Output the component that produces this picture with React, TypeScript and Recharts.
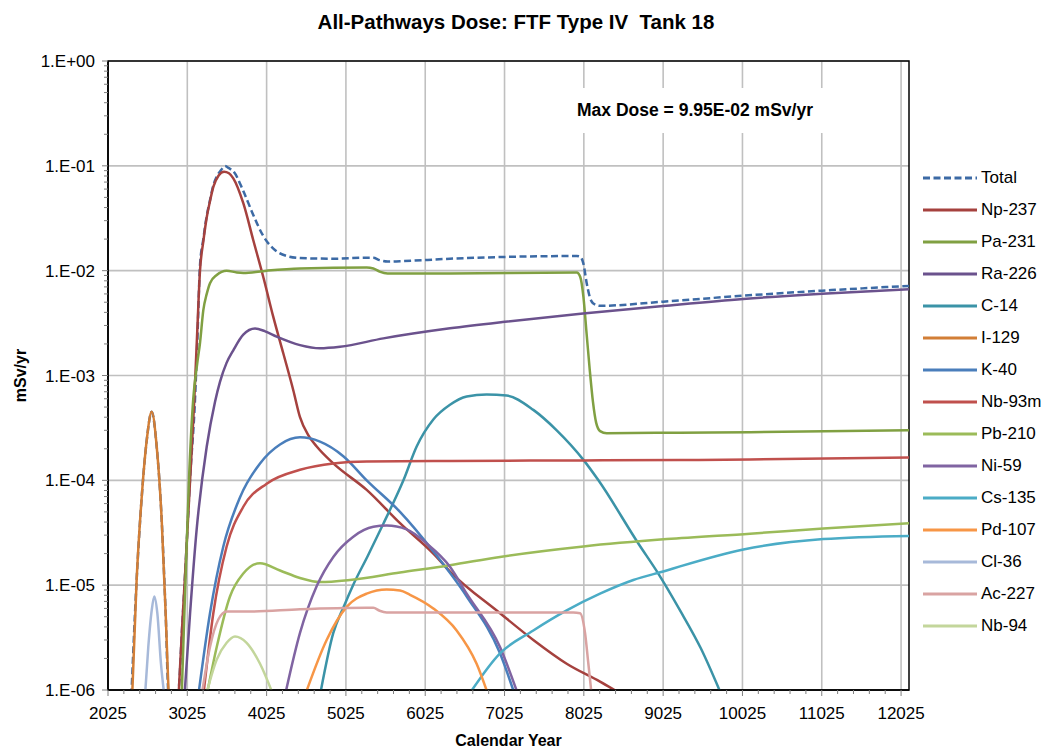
import React from 'react';
import { LineChart, Line, XAxis, YAxis, CartesianGrid, Legend, ReferenceArea } from 'recharts';

type Pt = [number, number];

// ---- data (year, dose mSv/yr) ----
const totalDose: Pt[] = [
  [2320, 8.9e-7], [2386, 1.12e-5], [2450, 6.9e-5], [2513, 2.4e-4], [2576, 4.5e-4], [2639, 2.1e-4],
  [2702, 4.2e-5], [2752, 5.4e-6], [2790, 8.9e-7], [2905, 8.9e-7], [2960, 4.0e-6], [3000, 1.4e-5],
  [3060, 1.05e-4], [3122, 5.9e-4], [3150, 2.0e-3], [3185, 1.12e-2], [3227, 2.0e-2], [3269, 3.3e-2],
  [3311, 4.7e-2], [3353, 6.5e-2], [3396, 7.9e-2], [3450, 9.1e-2], [3500, 9.95e-2], [3550, 9.5e-2],
  [3605, 8.9e-2], [3731, 5.75e-2], [3857, 3.4e-2], [3983, 2.14e-2], [4110, 1.62e-2], [4278, 1.38e-2],
  [4446, 1.32e-2], [4866, 1.30e-2], [5287, 1.33e-2], [5370, 1.33e-2], [5450, 1.26e-2], [5550, 1.22e-2],
  [5707, 1.23e-2], [6337, 1.30e-2], [7000, 1.35e-2], [7936, 1.38e-2], [7977, 1.36e-2], [8019, 1.17e-2],
  [8061, 7.6e-3], [8100, 5.6e-3], [8141, 4.9e-3], [8229, 4.62e-3], [9024, 5.06e-3], [10033, 5.77e-3],
  [11029, 6.45e-3], [12125, 7.15e-3],
];
const np237: Pt[] = [
  [2915, 8.9e-7], [2960, 4.0e-6], [3000, 1.4e-5], [3060, 1.0e-4], [3113, 5.9e-4], [3150, 2.6e-3],
  [3185, 1.0e-2], [3227, 1.9e-2], [3269, 3.2e-2], [3311, 4.6e-2], [3353, 6.3e-2], [3420, 8.1e-2],
  [3488, 8.8e-2], [3550, 8.5e-2], [3605, 7.6e-2], [3731, 4.4e-2], [3857, 1.95e-2], [3983, 8.7e-3],
  [4110, 3.6e-3], [4236, 1.62e-3], [4362, 7.2e-4], [4446, 4.0e-4], [4550, 2.7e-4], [4657, 2.1e-4],
  [4866, 1.45e-4], [5287, 8.1e-5], [5707, 3.9e-5], [6127, 2.0e-5], [6337, 1.35e-5], [6968, 5.4e-6],
  [7388, 3.0e-6], [7809, 1.78e-6], [8229, 1.2e-6], [8523, 8.9e-7],
];
const pa231: Pt[] = [
  [2954, 8.9e-7], [3000, 1.0e-5], [3050, 1.2e-4], [3100, 6.0e-4], [3150, 1.3e-3], [3185, 2.04e-3],
  [3227, 4.2e-3], [3270, 6.0e-3], [3311, 7.6e-3], [3396, 9.1e-3], [3521, 1.0e-2], [3650, 9.6e-3],
  [3731, 9.5e-3], [4026, 1.0e-2], [4446, 1.05e-2], [5287, 1.07e-2], [5371, 1.05e-2], [5450, 9.8e-3],
  [5550, 9.4e-3], [6337, 9.4e-3], [7936, 9.6e-3], [7980, 8.7e-3], [8020, 5.6e-3], [8060, 2.5e-3],
  [8100, 1.12e-3], [8140, 5.6e-4], [8180, 3.55e-4], [8230, 2.95e-4], [8313, 2.82e-4], [9238, 2.85e-4],
  [10121, 2.88e-4], [12125, 3.0e-4],
];
const ra226: Pt[] = [
  [2990, 8.9e-7], [3060, 5.4e-6], [3143, 3.4e-5], [3270, 2.1e-4], [3374, 5.6e-4], [3437, 8.7e-4],
  [3520, 1.32e-3], [3605, 1.74e-3], [3731, 2.45e-3], [3879, 2.8e-3], [4000, 2.65e-3], [4152, 2.35e-3],
  [4446, 1.95e-3], [4698, 1.82e-3], [4951, 1.88e-3], [5497, 2.26e-3], [6337, 2.82e-3], [7000, 3.24e-3],
  [8015, 3.9e-3], [9024, 4.6e-3], [10033, 5.37e-3], [11029, 6.03e-3], [12125, 6.65e-3],
];
const c14: Pt[] = [
  [4698, 8.9e-7], [4866, 3.5e-6], [5000, 6.3e-6], [5115, 1.0e-5], [5300, 1.9e-5], [5500, 3.9e-5],
  [5750, 1.0e-4], [5917, 2.1e-4], [6127, 3.8e-4], [6337, 5.25e-4], [6548, 6.3e-4], [6799, 6.6e-4],
  [7051, 6.45e-4], [7388, 4.7e-4], [7683, 3.0e-4], [8025, 1.55e-4], [8209, 1.0e-4], [8712, 2.5e-5],
  [8964, 1.29e-5], [9238, 5.75e-6], [9500, 2.5e-6], [9763, 8.9e-7],
];
const i129: Pt[] = [
  [2330, 8.9e-7], [2386, 1.12e-5], [2450, 6.9e-5], [2513, 2.4e-4], [2576, 4.5e-4], [2639, 2.1e-4],
  [2702, 4.2e-5], [2752, 5.4e-6], [2790, 8.9e-7],
];
const k40: Pt[] = [
  [3164, 8.9e-7], [3311, 5.4e-6], [3479, 2.34e-5], [3690, 6.9e-5], [3942, 1.45e-4], [4194, 2.2e-4],
  [4446, 2.57e-4], [4698, 2.34e-4], [4992, 1.7e-4], [5287, 1.0e-4], [5707, 5.0e-5], [6127, 2.1e-5],
  [6548, 7.8e-6], [6968, 2.24e-6], [7157, 8.9e-7],
];
const nb93m: Pt[] = [
  [3227, 8.9e-7], [3353, 5.4e-6], [3521, 2.34e-5], [3731, 5.6e-5], [4026, 9.3e-5], [4446, 1.26e-4],
  [4866, 1.45e-4], [5287, 1.51e-4], [6337, 1.53e-4], [8025, 1.55e-4], [9238, 1.56e-4], [10121, 1.58e-4],
  [12125, 1.65e-4],
];
const pb210: Pt[] = [
  [3269, 8.9e-7], [3396, 2.57e-6], [3563, 7.8e-6], [3731, 1.29e-5], [3942, 1.62e-5], [4194, 1.38e-5],
  [4446, 1.17e-5], [4698, 1.07e-5], [5076, 1.12e-5], [5707, 1.32e-5], [6337, 1.55e-5], [6968, 1.86e-5],
  [8019, 2.34e-5], [9069, 2.75e-5], [10121, 3.1e-5], [11045, 3.47e-5], [12125, 3.9e-5],
];
const ni59: Pt[] = [
  [4257, 8.9e-7], [4446, 3.5e-6], [4657, 9.8e-6], [4866, 1.86e-5], [5118, 2.9e-5], [5371, 3.6e-5],
  [5539, 3.7e-5], [5791, 3.4e-5], [6043, 2.5e-5], [6337, 1.5e-5], [6548, 8.3e-6], [6968, 2.57e-6],
  [7199, 8.9e-7],
];
const cs135: Pt[] = [
  [6569, 8.9e-7], [6968, 2.24e-6], [7388, 3.7e-6], [7809, 5.75e-6], [8229, 8.3e-6], [8649, 1.12e-5],
  [9069, 1.38e-5], [9238, 1.51e-5], [10037, 2.19e-5], [11045, 2.75e-5], [12125, 2.95e-5],
];
const pd107: Pt[] = [
  [4509, 8.9e-7], [4782, 3.0e-6], [5034, 6.2e-6], [5287, 8.3e-6], [5539, 9.1e-6], [5707, 8.9e-6],
  [5833, 8.1e-6], [6127, 6.0e-6], [6421, 3.7e-6], [6673, 1.78e-6], [6821, 8.9e-7],
];
const cl36: Pt[] = [
  [2492, 8.9e-7], [2533, 2.57e-6], [2576, 5.75e-6], [2609, 7.8e-6], [2647, 5.4e-6], [2693, 1.78e-6],
  [2735, 8.9e-7],
];
const ac227: Pt[] = [
  [3206, 8.9e-7], [3311, 2.57e-6], [3416, 4.7e-6], [3521, 5.6e-6], [3816, 5.6e-6], [4446, 5.9e-6],
  [5287, 6.1e-6], [5371, 6.1e-6], [5450, 5.7e-6], [5539, 5.5e-6], [6337, 5.5e-6], [7892, 5.5e-6],
  [7977, 5.4e-6], [8040, 3.5e-6], [8082, 1.78e-6], [8124, 8.9e-7],
];
const nb94: Pt[] = [
  [3260, 8.9e-7], [3396, 1.95e-6], [3521, 2.82e-6], [3626, 3.24e-6], [3773, 2.82e-6], [3942, 1.78e-6],
  [4110, 8.9e-7],
];

const seriesNames = ['Total', 'Np-237', 'Pa-231', 'Ra-226', 'C-14', 'I-129', 'K-40', 'Nb-93m', 'Pb-210', 'Ni-59', 'Cs-135', 'Pd-107', 'Cl-36', 'Ac-227', 'Nb-94'];
const seriesData: Pt[][] = [totalDose, np237, pa231, ra226, c14, i129, k40, nb93m, pb210, ni59, cs135, pd107, cl36, ac227, nb94];
const seriesColors = ['#3C6AA5', '#A5413E', '#80A042', '#6B528D', '#3B93A7', '#D27E36', '#4A7EBB', '#C0504D', '#9BBB59', '#8064A2', '#4BACC6', '#F79646', '#A7B9D9', '#D9A3A2', '#C3D69B'];

const xTickLabels = [2025, 3025, 4025, 5025, 6025, 7025, 8025, 9025, 10025, 11025, 12025];
const yDecades = [1e-6, 1e-5, 1e-4, 1e-3, 1e-2, 1e-1, 1];
const yTickLabels = ['1.E-06', '1.E-05', '1.E-04', '1.E-03', '1.E-02', '1.E-01', '1.E+00'];

const xMinorTicks: number[] = [];
for (let t = 2025; t <= 12025; t += 200) xMinorTicks.push(t);
const yAllTicks: number[] = [...yDecades];
yDecades.slice(0, 6).forEach((d) => {
  for (let k = 2; k <= 9; k++) yAllTicks.push(d * k);
});

const FONT = '"Liberation Sans", Arial, sans-serif';

const series = seriesNames.map((name, i) => ({
  name,
  color: seriesColors[i],
  dashed: i === 0,
  rows: seriesData[i].map(([x, v]) => ({ x, v })),
}));

const XTick = (props: any) => {
  const { x, y, payload } = props;
  const idx = xTickLabels.indexOf(payload.value);
  const major = idx >= 0;
  return (
    <g>
      <line x1={x} x2={x} y1={y} y2={y + (major ? 6 : 4)} stroke="#7f7f7f" strokeWidth={1} />
      {major && (
        <text x={x} y={y + 29} textAnchor="middle" fontSize={17} fontFamily={FONT} fill="#000">
          {xTickLabels[idx]}
        </text>
      )}
    </g>
  );
};

const YTick = (props: any) => {
  const { x, y, payload } = props;
  const idx = yDecades.indexOf(payload.value);
  const major = idx >= 0;
  return (
    <g>
      <line x1={x - (major ? 6 : 4)} x2={x} y1={y} y2={y} stroke="#7f7f7f" strokeWidth={1} />
      {major && (
        <text x={x - 13} y={y + 6} textAnchor="end" fontSize={17} fontFamily={FONT} fill="#000">
          {yTickLabels[idx]}
        </text>
      )}
    </g>
  );
};

const XTitle = (props: any) => {
  const vb = props.viewBox || {};
  return (
    <text x={vb.x + vb.width / 2} y={vb.y + 56} textAnchor="middle" fontSize={16} fontWeight="bold" fontFamily={FONT} fill="#000">
      Calendar Year
    </text>
  );
};

const YTitle = (props: any) => {
  const vb = props.viewBox || {};
  const cx = vb.x + 18;
  const cy = vb.y + vb.height / 2;
  return (
    <text x={cx} y={cy} transform={`rotate(-90 ${cx} ${cy})`} textAnchor="middle" fontSize={16} fontWeight="bold" fontFamily={FONT} fill="#000">
      mSv/yr
    </text>
  );
};

const LegendContent = () => (
  <div style={{ fontFamily: FONT }}>
    {series.map((s) => (
      <div key={s.name} style={{ display: 'flex', alignItems: 'center', height: 32 }}>
        <svg width={54} height={8} style={{ display: 'block' }}>
          <line x1={0} x2={54} y1={4} y2={4} stroke={s.color} strokeWidth={3} strokeDasharray={s.dashed ? '7 3.5' : undefined} />
        </svg>
        <span style={{ marginLeft: 4, fontSize: 17, color: '#000', whiteSpace: 'nowrap' }}>{s.name}</span>
      </div>
    ))}
  </div>
);

export default function App() {
  return (
    <div style={{ position: 'relative', width: 1035, height: 740, fontFamily: FONT }}>
      <LineChart width={1035} height={740} margin={{ top: 53, right: 134, bottom: 0, left: 0 }}>
        <CartesianGrid stroke="#C0C0C0" strokeWidth={1.6} horizontalValues={yDecades} verticalValues={xTickLabels} />
        <XAxis
          type="number"
          dataKey="x"
          domain={[2025, 12125]}
          allowDataOverflow
          ticks={xMinorTicks}
          interval={0}
          tickSize={0}
          tickMargin={0}
          tickLine={false}
          tick={<XTick />}
          axisLine={{ stroke: '#000', strokeWidth: 1.5 }}
          height={58}
          label={<XTitle />}
        />
        <YAxis
          type="number"
          scale="log"
          domain={[1e-6, 1]}
          allowDataOverflow
          ticks={yAllTicks}
          interval={0}
          tickSize={0}
          tickMargin={0}
          tickLine={false}
          tick={<YTick />}
          axisLine={{ stroke: '#000', strokeWidth: 1.5 }}
          width={100}
          label={<YTitle />}
        />
        <ReferenceArea x1={2025} x2={12125} y1={1e-6} y2={1} fill="none" stroke="#000" strokeWidth={1.5} ifOverflow="visible" />
        {series.map((s) => (
          <Line
            key={s.name}
            data={s.rows}
            dataKey="v"
            name={s.name}
            type="monotone"
            stroke={s.color}
            strokeWidth={2.5}
            strokeDasharray={s.dashed ? '7 3.5' : undefined}
            dot={false}
            activeDot={false}
            isAnimationActive={false}
          />
        ))}
        <Legend layout="vertical" align="center" verticalAlign="middle" wrapperStyle={{ left: 915, top: 154, width: 130 }} content={<LegendContent />} />
      </LineChart>
      <div style={{ position: 'absolute', left: 158, top: 2, width: 700, textAlign: 'center', fontSize: 20.5, fontWeight: 'bold', lineHeight: '24px', whiteSpace: 'pre', color: '#000' }}>
        {'All-Pathways Dose: FTF Type IV  Tank 18'}
      </div>
      <div style={{ position: 'absolute', left: 552, top: 80, width: 270, height: 45, lineHeight: '45px', background: '#fff', textAlign: 'center', fontSize: 17.5, fontWeight: 'bold', color: '#000' }}>
        Max Dose = 9.95E-02 mSv/yr
      </div>
    </div>
  );
}
